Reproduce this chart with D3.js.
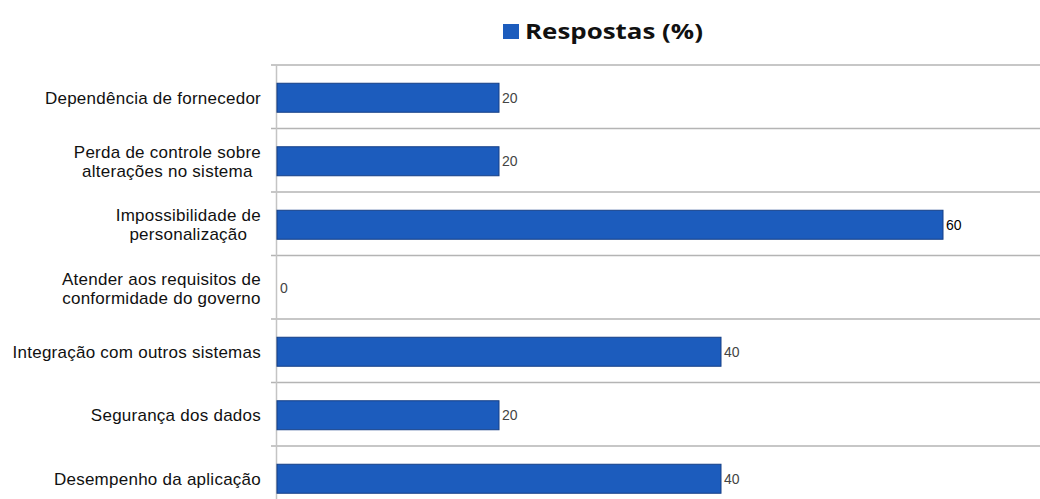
<!DOCTYPE html>
<html><head><meta charset="utf-8">
<script src="https://cdn.jsdelivr.net/npm/d3@7"></script>
<style>body{margin:0;background:#fff;}svg{display:block;}</style>
</head><body>
<svg id="c" width="1040" height="499"></svg>
<script>
const categories = [
  ["Dependência de fornecedor"],
  ["Perda de controle sobre", "alterações no sistema"],
  ["Impossibilidade de", "personalização"],
  ["Atender aos requisitos de", "conformidade do governo"],
  ["Integração com outros sistemas"],
  ["Segurança dos dados"],
  ["Desempenho da aplicação"]
];
const values = [20, 20, 60, 0, 40, 20, 40];
const seriesName = "Respostas (%)";

const svg = d3.select("#c");
const x = d3.scaleLinear().domain([0, 60]).range([277, 943]);
const y = d3.scaleBand().domain(d3.range(categories.length)).range([65, 65 + 63.5 * 7]).paddingInner(0).paddingOuter(0);

// gridlines
const gridYs = d3.range(categories.length + 1).map(i => 65 + i * 63.5);
svg.append("g").selectAll("line").data(gridYs).join("line")
  .attr("x1", 271).attr("x2", 1040).attr("y1", d => d).attr("y2", d => d)
  .attr("stroke", "#b4b4b4").attr("stroke-width", 1.5);
// axis line
svg.append("line").attr("x1", 276.5).attr("x2", 276.5).attr("y1", 65).attr("y2", 499)
  .attr("stroke", "#c4c4c4").attr("stroke-width", 1.5);

const barH = 29;
svg.append("g").selectAll("rect").data(values).join("rect")
  .attr("x", x(0)).attr("width", d => x(d) - x(0))
  .attr("y", (d, i) => y(i) + y.bandwidth() / 2 - barH / 2 + 1)
  .attr("height", barH)
  .attr("fill", "#1c5cbd").attr("stroke", "#143f86").attr("stroke-width", d => d > 0 ? 1 : 0);

svg.append("g").selectAll("text").data(values).join("text")
  .attr("x", d => x(d) + 3)
  .attr("y", (d, i) => y(i) + y.bandwidth() / 2 + 6)
  .attr("font-family", "Liberation Sans Narrow, Liberation Sans, Arial, sans-serif").attr("font-size", 14)
  .attr("fill", d => d === 60 ? "#000" : "#444")
  .text(d => d);

// category labels
const lab = svg.append("g").attr("font-family", "Liberation Sans, Arial, sans-serif").attr("font-size", 17)
  .attr("letter-spacing", 0.25).attr("fill", "#111");
categories.forEach((lines, i) => {
  const cy = y(i) + y.bandwidth() / 2 + 1;
  const lh = 19;
  const t = lab.append("text");
  const y0 = cy - (lines.length - 1) * lh / 2 + 6;
  lines.forEach((ln, j) => {
    t.append("tspan").attr("y", y0 + j * lh).text(ln);
  });
  const spans = t.selectAll("tspan").nodes();
  const widths = spans.map(s => s.getComputedTextLength());
  const maxW = d3.max(widths);
  const right = 261;
  spans.forEach((s, j) => {
    d3.select(s).attr("x", right - maxW / 2).attr("text-anchor", "middle");
  });
});

// legend
svg.append("rect").attr("x", 503).attr("y", 24).attr("width", 16).attr("height", 15).attr("fill", "#1c5cbd");
const lt = svg.append("text").attr("x", 0).attr("y", 0)
  .attr("font-family", "Open Sans, sans-serif").attr("font-weight", "bold").attr("font-size", 21)
  .attr("fill", "#111").text(seriesName);
const lw = lt.node().getComputedTextLength();
lt.attr("transform", `translate(525,38.5) scale(${178 / lw},1)`);
</script>
</body></html>
